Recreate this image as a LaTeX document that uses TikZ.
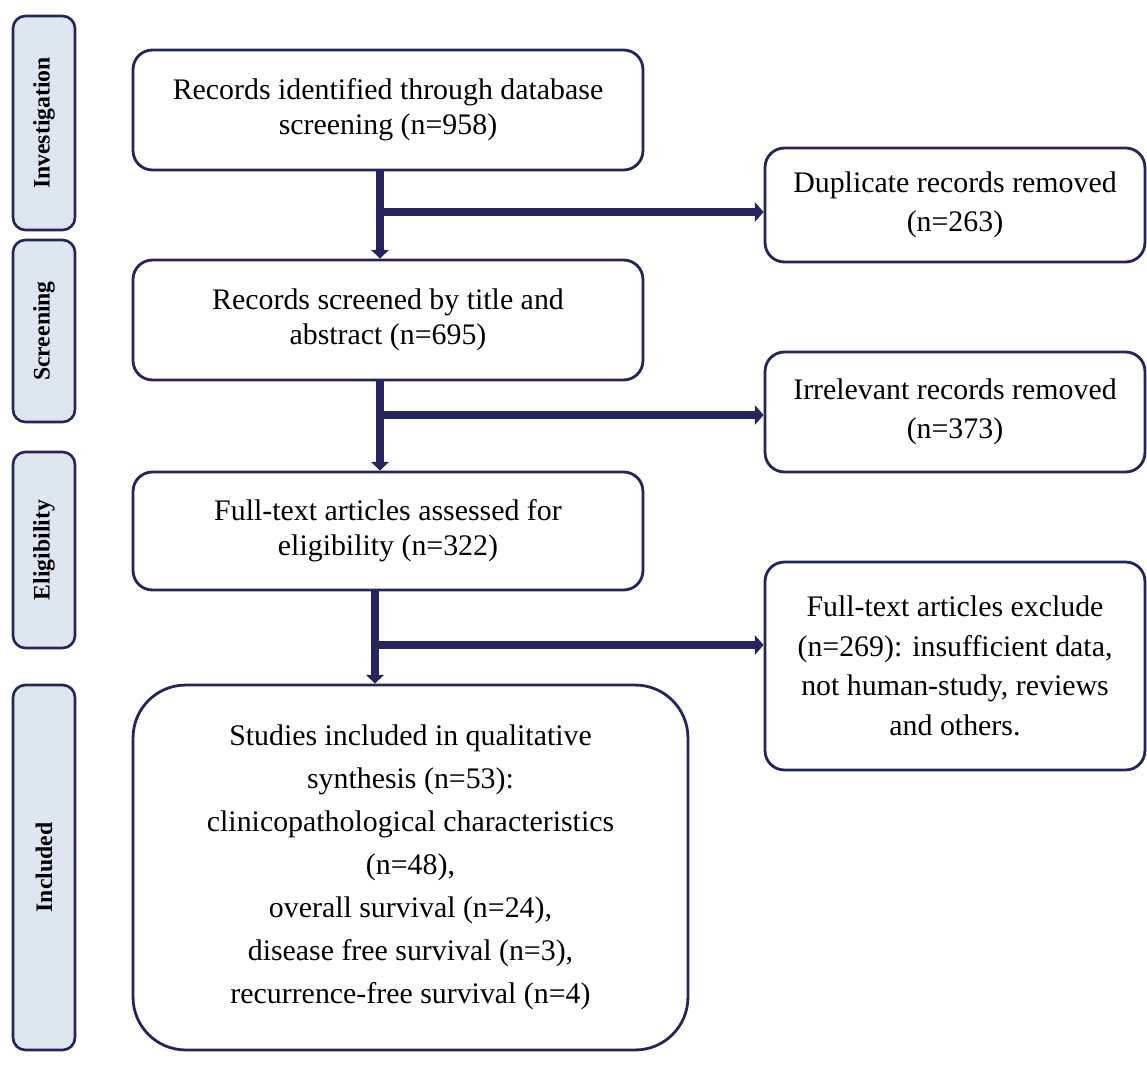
\documentclass[tikz,border=0pt]{standalone}
\usepackage{fontspec}
\setmainfont{Liberation Serif}
\usetikzlibrary{arrows.meta}
\definecolor{navy}{HTML}{25255E}
\definecolor{stagefill}{HTML}{DEE6F0}
\begin{document}
\begin{tikzpicture}[x=0.02cm, y=-0.02cm,
    stage/.style={draw=navy, line width=1.5pt, fill=stagefill, rounded corners=7pt,
      rotate=90, minimum height=1.24cm, inner sep=0pt,
      font=\fontsize{13.5}{16}\selectfont\bfseries},
    stepbox/.style={draw=navy, line width=1.6pt, rounded corners=11pt, align=center,
      minimum width=10.2cm, font=\fontsize{17}{20}\selectfont},
    sidebox/.style={draw=navy, line width=1.6pt, rounded corners=11pt, align=center,
      minimum width=7.6cm, font=\fontsize{17}{22.5}\selectfont},
    flow/.style={draw=navy, line width=4pt, -{Triangle[length=5pt,width=10pt]}},
    outflow/.style={draw=navy, line width=5pt, -{Triangle[length=5pt,width=11pt]}}]
  \useasboundingbox (0,0) rectangle (1147,1065);
  \node [stage, minimum width=4.28cm] (investigation) at (44,123) {Investigation};
  \node [stage, minimum width=3.64cm] (screening) at (44,331) {Screening};
  \node [stage, minimum width=3.92cm] (eligibility) at (44,550) {Eligibility};
  \node [stage, minimum width=7.3cm] (included) at (44,867.5) {Included};
  \node [stepbox, minimum height=2.4cm] (identified) at (388,110)
    {Records identified through database\\screening (n=958)};
  \node [stepbox, minimum height=2.4cm] (screened) at (388,320)
    {Records screened by title and\\abstract (n=695)};
  \node [stepbox, minimum height=2.36cm] (assessed) at (388,531)
    {Full-text articles assessed for\\eligibility (n=322)};
  \node [stepbox, minimum width=11.1cm, minimum height=7.3cm, rounded corners=30pt,
    font=\fontsize{17}{24.5}\selectfont] (studies) at (410.5,867.5)
    {Studies included in qualitative\\synthesis (n=53):\\clinicopathological characteristics\\(n=48),\\overall survival (n=24),\\disease free survival (n=3),\\recurrence-free survival (n=4)};
  \node [sidebox, minimum height=2.28cm] (duplicate) at (955,205)
    {Duplicate records removed\\(n=263)};
  \node [sidebox, minimum height=2.4cm] (irrelevant) at (955,412)
    {Irrelevant records removed\\(n=373)};
  \node [sidebox, minimum height=4.16cm] (excluded) at (955,666)
    {Full-text articles exclude\\(n=269): insufficient data,\\not human-study, reviews\\and others.};
  \coordinate (j1) at (380,212);
  \coordinate (j2) at (380,415);
  \coordinate (j3) at (375,645);
  \draw [flow] (j1 |- identified.south) -- (j1 |- screened.north);
  \draw [outflow] (j1) -- (j1 -| duplicate.west);
  \draw [flow] (j2 |- screened.south) -- (j2 |- assessed.north);
  \draw [outflow] (j2) -- (j2 -| irrelevant.west);
  \draw [flow] (j3 |- assessed.south) -- (j3 |- studies.north);
  \draw [outflow] (j3) -- (j3 -| excluded.west);
\end{tikzpicture}
\end{document}
